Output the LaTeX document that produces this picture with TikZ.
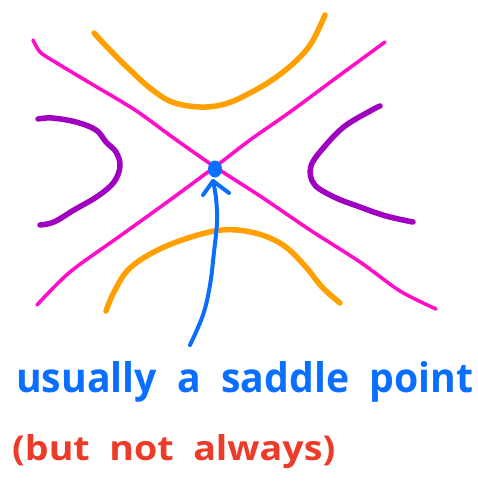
\documentclass[tikz,border=0pt]{standalone}
\usepackage{fontspec}
\setmainfont{Open Sans}
\usetikzlibrary{shapes.geometric}
\definecolor{cpink}{HTML}{FF10C8}
\definecolor{corange}{HTML}{FFA000}
\definecolor{cpurple}{HTML}{A000C0}
\definecolor{cblue}{HTML}{0A6EFF}
\definecolor{cred}{HTML}{EE3A28}
\begin{document}
\begin{tikzpicture}[x=1pt,y=-1pt,
  pinkline/.style={draw=cpink,line width=3.6pt,line cap=round,line join=round},
  orangeline/.style={draw=corange,line width=5.5pt,line cap=round,line join=round},
  purpleline/.style={draw=cpurple,line width=5.5pt,line cap=round,line join=round},
  blueline/.style={draw=cblue,line width=4pt,line cap=round,line join=round},
  lbl/.style={inner sep=0pt,anchor=base west,font=\bfseries}]
\useasboundingbox (0,0) rectangle (478,481);
% pink separatrices
\draw[pinkline] plot[smooth,tension=0.5] coordinates {(33,40) (40,52) (55,62) (90,83) (135,110) (175,139) (215,167) (260,196) (310,230) (360,262) (400,291) (436,309)};
\draw[pinkline] plot[smooth,tension=0.5] coordinates {(385,42) (340,75) (290,112) (250,140) (220,163) (170,200) (120,236) (70,272) (37,305)};
% orange level curves
\draw[orangeline] plot[smooth,tension=0.6] coordinates {(94,33) (108,48) (128,68) (150,88) (172,102) (200,107) (225,104) (250,93) (275,78) (297,60) (312,42) (325,15)};
\draw[orangeline] plot[smooth,tension=0.6] coordinates {(106,311) (114,292) (128,270) (152,253) (185,239) (222,230) (255,233) (283,245) (305,266) (322,287) (340,303)};
% purple level curves
\draw[purpleline] plot[smooth,tension=0.6] coordinates {(38,119) (52,118) (76,122) (96,130) (106,142) (116,152) (120,166) (114,182) (98,196) (74,210) (54,222) (40,225)};
\draw[purpleline] plot[smooth,tension=0.6] coordinates {(380,106) (372,110) (345,126) (325,146) (311,166) (314,184) (334,197) (360,207) (386,216) (413,222)};
% saddle point
\node[fill=cblue,ellipse,minimum width=14pt,minimum height=17pt,inner sep=0pt] (dot) at (215,169) {};
% arrow
\coordinate (tail) at (190,345);
\coordinate (tip) at (213,181);
\coordinate (wl) at (203,195);
\coordinate (wr) at (229,193);
\draw[blueline] plot[smooth,tension=0.6] coordinates {(tail) (203,315) (210,285) (214,252) (217,222) (216,198) (tip)};
\draw[blueline] (wl) -- (tip) -- (wr);
% labels
\node[lbl,text=cblue] (t1) at (16,392) {\resizebox{457pt}{31pt}{usually\ \ a\ \ saddle\ \ point}};
\node[lbl,text=cred] (t2) at (12,460) {\resizebox{323pt}{26pt}{(but\ \ not\ \ always)}};
\end{tikzpicture}
\end{document}
